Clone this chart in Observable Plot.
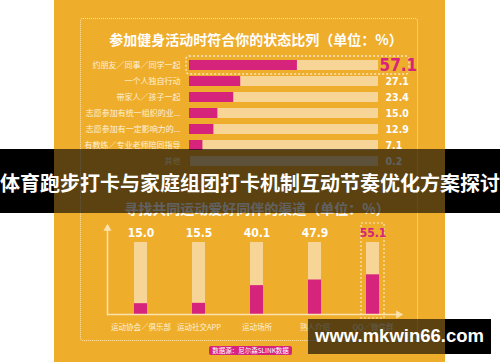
<!DOCTYPE html>
<html><head><meta charset="utf-8">
<script src="https://cdn.jsdelivr.net/npm/d3@7"></script>
<script src="https://cdn.jsdelivr.net/npm/@observablehq/plot@0.6"></script>
<style>
html,body{margin:0;padding:0;background:#fff;}
#wrap{position:relative;width:500px;height:362px;overflow:hidden;font-family:"Noto Sans CJK SC","Noto Sans",sans-serif;}
.abs{position:absolute;}
#panel{left:54px;top:0;width:391px;height:362px;background:#EFAD2C;}
#dots{left:80px;top:18px;width:338px;height:323px;border:1.5px dotted rgba(255,240,210,0.85);border-radius:3px;box-sizing:border-box;}
.ttl{color:#fff;font-weight:bold;font-size:14px;white-space:nowrap;transform:translateX(-50%);line-height:1;}
.blk{background:#000;}
.shade{background:rgba(0,0,0,0.62);}
#band-t{left:250px;top:172px;transform:translateX(-50%);color:#fff;font-weight:bold;font-size:20px;white-space:nowrap;line-height:22px;}
#src{left:209px;top:346px;width:83px;height:9px;background:#D6247D;border-radius:2px;color:#fff;font-size:6.5px;line-height:9px;text-align:center;white-space:nowrap;}
#wm{left:308px;top:324px;width:183px;color:#fff;font-family:"Liberation Sans",Arial,sans-serif;font-weight:bold;font-size:18.5px;text-align:center;line-height:24px;}
svg{position:absolute;left:0;}
.cond, .cond text{font-stretch:condensed;}
</style></head>
<body><div id="wrap">
<div id="panel" class="abs"></div>
<div id="dots" class="abs"></div>
<div class="abs ttl" style="left:256px;top:32px;">参加健身活动时符合你的状态比列（单位：%）</div>
<div class="abs ttl" style="left:257px;top:201px;">寻找共同运动爱好同伴的渠道（单位：%）</div>
</div>
<script>
// Chart 1: 参加健身活动时符合你的状态比列
const states = ["约朋友／同事／同学一起","一个人独自行动","带家人／孩子一起","志愿参加有统一组织的业...","志愿参加有一定影响力的...","有教练／专业老师陪同指导","其他"];
const stateValues = [57.1, 27.1, 23.4, 15.0, 12.9, 7.1, 0.2];
// Chart 2: 寻找共同运动爱好同伴的渠道
const channels = ["运动协会／俱乐部","运动社交APP","运动场所","熟人介绍","QQ／微信群"];
const channelValues = [15.0, 15.5, 40.1, 47.9, 55.1];

const PINK = "#D6247D", TRACK = "#F7D596", CREAM = "#FDF1D8";
const COND = "'DejaVu Sans',sans-serif";
const wrap = document.getElementById("wrap");

const d1 = states.map((c, i) => ({c, v: stateValues[i]}));
const p1 = Plot.plot({
  width: 500, height: 180, margin: 0,
  style: {background: "transparent", fontFamily: "Noto Sans CJK SC", overflow: "visible"},
  x: {domain: [0, 100], range: [189, 378], axis: null},
  y: {domain: states, range: [56, 170], paddingInner: 0.386, paddingOuter: 0.193, axis: null},
  marks: [
    Plot.barX(d1, {y: "c", x1: 0, x2: 100, fill: TRACK}),
    Plot.barX(d1, {y: "c", x1: 0, x2: "v", fill: PINK}),
    Plot.barX(d1.slice(0, 1), {y: "c", x1: 0, x2: 100, fill: "none", stroke: "#FBE6BE", strokeWidth: 1.3, strokeDasharray: "2,2", insetLeft: -3, insetRight: -31, insetTop: -4, insetBottom: -4, rx: 3}),
    Plot.text(d1, {y: "c", x: 0, text: "c", textAnchor: "end", dx: -9, fill: CREAM, fontSize: 8}),
    Plot.text(d1.slice(1), {y: "c", x: 100, text: d => d.v.toFixed(1), textAnchor: "start", dx: 7, fill: "#fff", fontSize: 10.5, fontWeight: "bold", fontFamily: COND, className: "cond"}),
    Plot.text(d1.slice(0, 1), {y: "c", x: 100, text: d => d.v.toFixed(1), textAnchor: "start", dx: 1, fill: PINK, fontSize: 17, fontWeight: "bold", fontFamily: COND, className: "cond"})
  ]
});
p1.style.top = "0px";
wrap.appendChild(p1);

const d2 = channels.map((c, i) => ({c, v: channelValues[i]}));
const p2 = Plot.plot({
  width: 500, height: 150,
  marginLeft: 107, marginRight: 102, marginTop: 28, marginBottom: 36,
  style: {background: "transparent", fontFamily: "Noto Sans CJK SC", overflow: "visible"},
  x: {domain: channels, range: [111, 401], paddingInner: 0.776, paddingOuter: 0.388, axis: null},
  y: {domain: [0, 100], range: [114, 42], axis: null},
  marks: [
    Plot.barY(d2, {x: "c", y1: 0, y2: 100, fill: TRACK}),
    Plot.barY(d2, {x: "c", y1: 0, y2: "v", fill: PINK}),
    Plot.frame({anchor: "left", stroke: "#FBE3B0", strokeWidth: 1.5}),
    Plot.ruleY([0], {stroke: "#FBE3B0", strokeWidth: 1.5}),
    Plot.dot([0], {frameAnchor: "top-left", symbol: "triangle", r: 3, fill: "#FBE3B0", stroke: null}),
    Plot.dot([0], {frameAnchor: "bottom-right", symbol: "triangle", rotate: 90, r: 3, fill: "#FBE3B0", stroke: null}),
    Plot.barY(d2.slice(4), {x: "c", y1: 0, y2: 100, fill: "none", stroke: "#FBE6BE", strokeWidth: 1.2, strokeDasharray: "2,2", insetLeft: -5, insetRight: -5, insetTop: -19, insetBottom: -4}),
    Plot.text(d2.slice(0, 4), {x: "c", y: 100, text: d => d.v.toFixed(1), dy: -9, fill: "#fff", fontSize: 12, fontWeight: "bold", fontFamily: COND, className: "cond"}),
    Plot.text(d2.slice(4), {x: "c", y: 100, text: d => d.v.toFixed(1), dy: -9, fill: PINK, fontSize: 12, fontWeight: "bold", fontFamily: COND, className: "cond"}),
    Plot.text(d2, {x: "c", y: 0, text: "c", dy: 13, fill: CREAM, fontSize: 7.5})
  ]
});
p2.style.top = "200px";
wrap.appendChild(p2);

// overlays
function addDiv(cls, css, html) {
  const d = document.createElement("div");
  d.className = "abs " + cls;
  d.style.cssText = css;
  if (html) d.innerHTML = html;
  wrap.appendChild(d);
  return d;
}
addDiv("blk", "left:0;top:149px;width:54px;height:64px;");
addDiv("blk", "left:445px;top:149px;width:55px;height:64px;");
addDiv("shade", "left:54px;top:149px;width:391px;height:64px;");
const bt = addDiv("", "", "体育跑步打卡与家庭组团打卡机制互动节奏优化方案探讨");
bt.id = "band-t";
const src = addDiv("", "", "数据源：尼尔森SLINK数据"); src.id = "src";
addDiv("blk", "left:445px;top:319px;width:46px;height:35px;");
addDiv("shade", "left:308px;top:319px;width:137px;height:35px;");
const wm = addDiv("", "", "www.mkwin66.com"); wm.id = "wm";
</script>
</body></html>
